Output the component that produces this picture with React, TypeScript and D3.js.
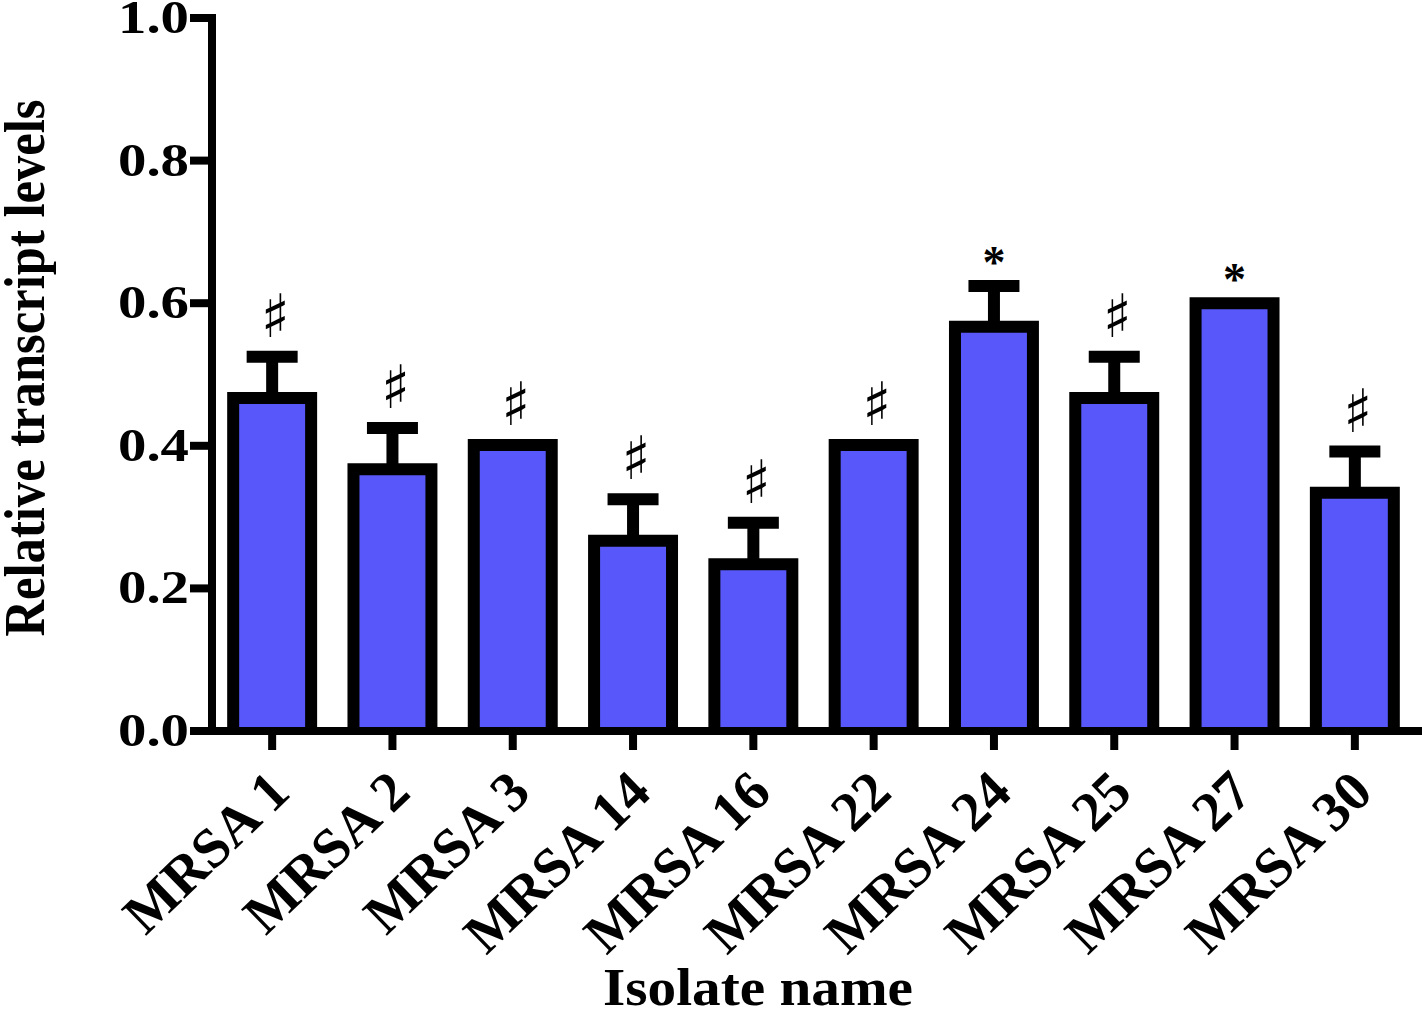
import React from "react";
import * as d3 from "d3";

const categories = ["MRSA 1", "MRSA 2", "MRSA 3", "MRSA 14", "MRSA 16", "MRSA 22", "MRSA 24", "MRSA 25", "MRSA 27", "MRSA 30"];
const means = [0.467, 0.367, 0.401, 0.267, 0.234, 0.401, 0.567, 0.467, 0.6, 0.334];
const errors = [0.058, 0.058, 0, 0.058, 0.058, 0, 0.057, 0.058, 0, 0.058];
const marks = ["♯", "♯", "♯", "♯", "♯", "♯", "*", "♯", "*", "♯"];
const yTicks = [0, 0.2, 0.4, 0.6, 0.8, 1.0];

const W = 1422;
const H = 1009;
const FILL = "#5858FA";
const SERIF = "'Liberation Serif', 'Times New Roman', serif";

export default function App() {
  const y = d3.scaleLinear().domain([0, 1]).range([731, 18]);
  const x = d3.scaleBand<string>().domain(categories).range([212, 1415]).paddingInner(0.352).paddingOuter(0.176);
  const bw = x.bandwidth();
  const y0 = y(0);

  return (
    <div style={{ position: "absolute", left: 0, top: 0 }}>
      <svg width={W} height={H} style={{ display: "block", background: "#fff" }}>
        {/* bars */}
        {categories.map((c, i) => {
          const x0 = x(c)!;
          const yt = y(means[i]);
          return (
            <g key={c}>
              <rect x={x0} y={yt} width={bw} height={y0 - yt} fill={FILL} />
              <path d={`M${x0},${y0}V${yt}H${x0 + bw}V${y0}`} fill="none" stroke="#000" strokeWidth={12} strokeLinejoin="miter" />
            </g>
          );
        })}
        {/* error bars */}
        {categories.map((c, i) => {
          if (!errors[i]) return null;
          const cx = x(c)! + bw / 2;
          const yt = y(means[i]);
          const ye = y(means[i] + errors[i]);
          return (
            <g key={"e" + c} stroke="#000" strokeWidth={12}>
              <line x1={cx} x2={cx} y1={yt} y2={ye} />
              <line x1={cx - 25.5} x2={cx + 25.5} y1={ye} y2={ye} />
            </g>
          );
        })}
        {/* significance marks */}
        {categories.map((c, i) => {
          const cx = x(c)! + bw / 2;
          const top = y(means[i] + errors[i]) - 6;
          const isStar = marks[i] === "*";
          return (
            <text
              key={"m" + c}
              x={isStar ? cx : cx + 3}
              y={isStar ? top - 2 : top - 14}
              textAnchor="middle"
              fontFamily={isStar ? SERIF : "'DejaVu Sans', sans-serif"}
              fontWeight={isStar ? "bold" : "normal"}
              fontSize={isStar ? 46 : 60}
              fill="#000"
            >
              {marks[i]}
            </text>
          );
        })}
        {/* x axis */}
        <line x1={208} x2={1422} y1={y0} y2={y0} stroke="#000" strokeWidth={8} />
        {categories.map((c) => {
          const cx = x(c)! + bw / 2;
          return <line key={"t" + c} x1={cx} x2={cx} y1={y0} y2={750} stroke="#000" strokeWidth={8} />;
        })}
        {categories.map((c) => {
          const cx = x(c)! + bw / 2;
          return (
            <text
              key={"l" + c}
              transform={`translate(${cx + 20},795) rotate(-44)`}
              textAnchor="end"
              fontFamily={SERIF}
              fontWeight="bold"
              fontSize={56}
              fill="#000"
            >
              {c}
            </text>
          );
        })}
        {/* y axis */}
        <line x1={212} x2={212} y1={14} y2={735} stroke="#000" strokeWidth={8} />
        {yTicks.map((t) => (
          <g key={"y" + t}>
            <line x1={190} x2={212} y1={y(t)} y2={y(t)} stroke="#000" strokeWidth={8} />
            <text
              x={189}
              y={y(t) + 15}
              textAnchor="end"
              fontFamily={SERIF}
              fontWeight="bold"
              fontSize={46}
              textLength={71}
              lengthAdjust="spacingAndGlyphs"
              fill="#000"
            >
              {t.toFixed(1)}
            </text>
          </g>
        ))}
        {/* axis titles */}
        <text
          x={758}
          y={1005}
          textAnchor="middle"
          fontFamily={SERIF}
          fontWeight="bold"
          fontSize={53}
          textLength={310}
          lengthAdjust="spacingAndGlyphs"
          fill="#000"
        >
          Isolate name
        </text>
        <text
          transform="translate(44,368) rotate(-90)"
          textAnchor="middle"
          fontFamily={SERIF}
          fontWeight="bold"
          fontSize={57}
          textLength={537}
          lengthAdjust="spacingAndGlyphs"
          fill="#000"
        >
          Relative transcript levels
        </text>
      </svg>
    </div>
  );
}
